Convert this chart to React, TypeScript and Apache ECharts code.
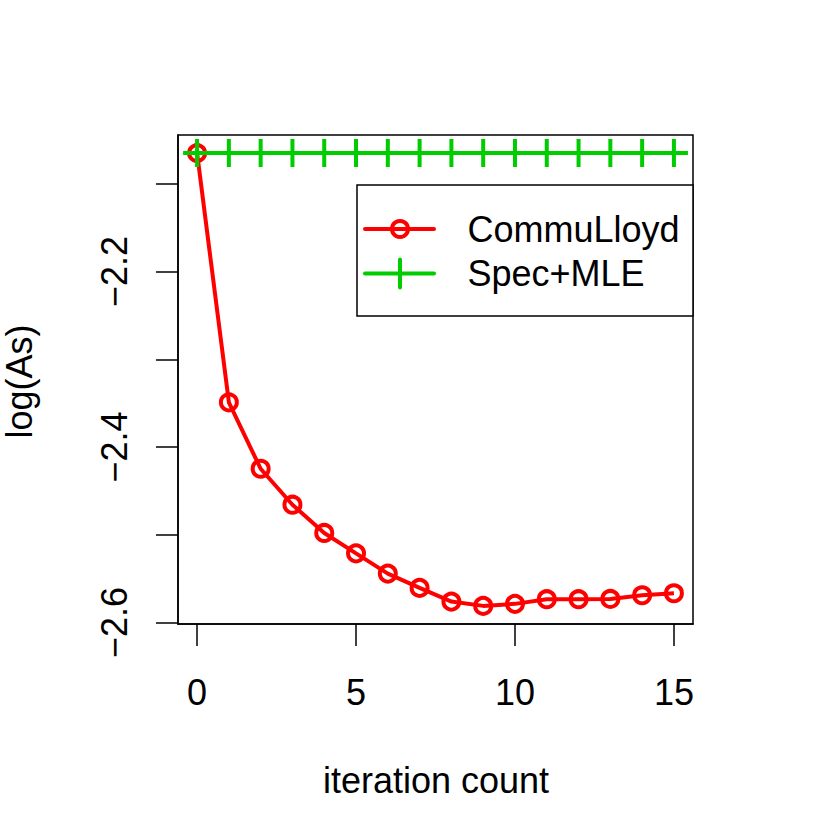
import React, { useEffect, useRef } from "react";
import * as echarts from "echarts";

const iterations = [0, 1, 2, 3, 4, 5, 6, 7, 8, 9, 10, 11, 12, 13, 14, 15];
const commuLloyd = [
  -2.065, -2.349, -2.4247, -2.4657, -2.4979, -2.5211, -2.5442, -2.5605,
  -2.5761, -2.581, -2.5787, -2.5734, -2.5734, -2.5731, -2.5689, -2.5666,
];
const specMLE = [
  -2.065, -2.065, -2.065, -2.065, -2.065, -2.065, -2.065, -2.065,
  -2.065, -2.065, -2.065, -2.065, -2.065, -2.065, -2.065, -2.065,
];
const xTicks = [0, 5, 10, 15];
const yTicks = [-2.6, -2.5, -2.4, -2.3, -2.2, -2.1];
const yLabels = [-2.6, -2.4, -2.2];
const seriesNames = ["CommuLloyd", "Spec+MLE"];
const xTitle = "iteration count";
const yTitle = "log(As)";

const FONT = "Liberation Sans, Arial, Helvetica, sans-serif";
const RED = "#FF0000";
const GREEN = "#00CD00";

const PLUS_PATH =
  "path://M12,0 L16,0 L16,12 L28,12 L28,16 L16,16 L16,28 L12,28 L12,16 L0,16 L0,12 L12,12 Z";

export default function App() {
  const ref = useRef<HTMLDivElement>(null);
  useEffect(() => {
    if (!ref.current) return;
    const chart = echarts.init(ref.current, null, { renderer: "svg" });

    // R-style 4% axis extension
    const allY = commuLloyd.concat(specMLE);
    const yMinD = Math.min(...allY);
    const yMaxD = Math.max(...allY);
    const yPad = (yMaxD - yMinD) * 0.04;
    const xMinD = Math.min(...iterations);
    const xMaxD = Math.max(...iterations);
    const xPad = (xMaxD - xMinD) * 0.04;

    const minus = (v: number) =>
      (v < 0 ? "\u2212" : "") + Math.abs(v).toFixed(1);

    const gLeft = 178;
    const gTop = 135;
    const gW = 515;
    const gH = 489;

    const lgLeft = 357;
    const lgTop = 185;
    const lgRight = gLeft + gW;
    const lgBottom = 316;
    const row1 = 229;
    const row2 = 273.5;

    chart.setOption({
      animation: false,
      backgroundColor: "#ffffff",
      grid: {
        left: gLeft,
        top: gTop,
        width: gW,
        height: gH,
        show: true,
        borderColor: "#000",
        borderWidth: 1.5,
        backgroundColor: "transparent",
      },
      xAxis: {
        type: "value",
        min: xMinD - xPad,
        max: xMaxD + xPad,
        axisLine: { show: true, onZero: false, lineStyle: { color: "#000", width: 1.5 } },
        axisTick: {
          show: true,
          length: 22,
          customValues: xTicks,
          lineStyle: { color: "#000", width: 1.5 },
        },
        axisLabel: {
          customValues: xTicks,
          margin: 68,
          verticalAlign: "middle",
          color: "#000",
          fontFamily: FONT,
          fontSize: 36,
          formatter: (v: number) => String(v),
        },
        splitLine: { show: false },
      },
      yAxis: {
        type: "value",
        min: yMinD - yPad,
        max: yMaxD + yPad,
        axisLine: { show: true, onZero: false, lineStyle: { color: "#000", width: 1.5 } },
        axisTick: {
          show: true,
          length: 22,
          customValues: yTicks,
          lineStyle: { color: "#000", width: 1.5 },
        },
        axisLabel: {
          customValues: yLabels,
          rotate: 90,
          margin: 64,
          align: "center",
          verticalAlign: "middle",
          color: "#000",
          fontFamily: FONT,
          fontSize: 36,
          formatter: (v: number) => minus(v),
        },
        splitLine: { show: false },
      },
      series: [
        {
          name: seriesNames[0],
          type: "line",
          data: iterations.map((x, i) => [x, commuLloyd[i]]),
          lineStyle: { color: RED, width: 4 },
          symbol: "circle",
          symbolSize: 16,
          showAllSymbol: true,
          itemStyle: { color: "rgba(0,0,0,0)", borderColor: RED, borderWidth: 4 },
          z: 2,
        },
        {
          name: seriesNames[1],
          type: "line",
          data: iterations.map((x, i) => [x, specMLE[i]]),
          lineStyle: { color: GREEN, width: 4 },
          symbol: PLUS_PATH,
          symbolSize: 28,
          showAllSymbol: true,
          itemStyle: { color: GREEN, borderWidth: 0 },
          z: 3,
        },
      ],
      graphic: [
        {
          type: "text",
          x: 436,
          y: 780,
          style: {
            text: xTitle,
            fill: "#000",
            font: `36px ${FONT}`,
            align: "center",
            verticalAlign: "middle",
          },
        },
        {
          type: "text",
          x: 19,
          y: 381.5,
          rotation: Math.PI / 2,
          style: {
            text: yTitle,
            fill: "#000",
            font: `36px ${FONT}`,
            align: "center",
            verticalAlign: "middle",
          },
        },
        {
          type: "rect",
          shape: { x: lgLeft, y: lgTop, width: lgRight - lgLeft, height: lgBottom - lgTop },
          style: { fill: "#fff", stroke: "#000", lineWidth: 1.5 },
          z: 10,
        },
        {
          type: "line",
          shape: { x1: 365, y1: row1, x2: 434, y2: row1 },
          style: { stroke: RED, lineWidth: 4, lineCap: "round" },
          z: 11,
        },
        {
          type: "circle",
          shape: { cx: 400, cy: row1, r: 8 },
          style: { fill: "none", stroke: RED, lineWidth: 4 },
          z: 12,
        },
        {
          type: "line",
          shape: { x1: 365, y1: row2, x2: 434, y2: row2 },
          style: { stroke: GREEN, lineWidth: 4, lineCap: "round" },
          z: 11,
        },
        {
          type: "line",
          shape: { x1: 400, y1: row2 - 14, x2: 400, y2: row2 + 14 },
          style: { stroke: GREEN, lineWidth: 4, lineCap: "round" },
          z: 12,
        },
        {
          type: "text",
          x: 467.5,
          y: row1,
          style: {
            text: seriesNames[0],
            fill: "#000",
            font: `36px ${FONT}`,
            align: "left",
            verticalAlign: "middle",
          },
          z: 12,
        },
        {
          type: "text",
          x: 467.5,
          y: row2,
          style: {
            text: seriesNames[1],
            fill: "#000",
            font: `36px ${FONT}`,
            align: "left",
            verticalAlign: "middle",
          },
          z: 12,
        },
      ],
    });

    return () => chart.dispose();
  }, []);

  return (
    <div
      ref={ref}
      style={{ position: "absolute", left: 0, top: 0, width: 830, height: 830 }}
    />
  );
}
